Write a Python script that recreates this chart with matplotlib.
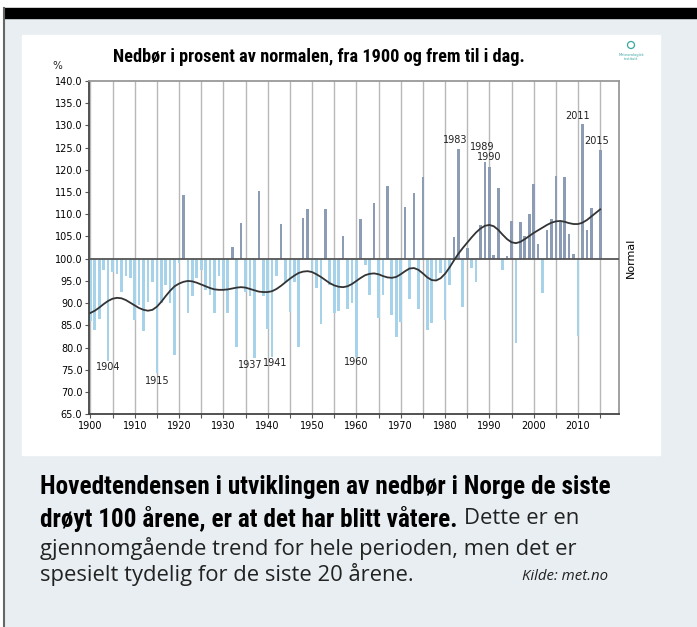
import matplotlib.pyplot as plt
from matplotlib.patches import Rectangle, Circle
import numpy as np

years = list(range(1900, 2016))
precip = [
    86.0, 84.0, 86.5, 97.5, 77.0, 97.0, 96.5, 92.5, 96.0, 95.7,   # 1900-09
    86.2, 89.5, 83.8, 90.3, 94.8, 74.3, 90.0, 94.1, 90.0, 78.3,   # 1910-19
    99.0, 114.3, 87.7, 91.5, 95.7, 97.5, 93.0, 91.9, 87.7, 96.0,  # 1920-29
    93.0, 87.7, 102.7, 80.2, 108.1, 92.6, 91.5, 77.6, 115.2, 91.5,  # 1930-39
    84.3, 78.0, 96.0, 107.8, 94.8, 88.1, 94.8, 80.2, 109.2, 111.1,  # 1940-49
    97.0, 93.3, 85.3, 111.1, 94.1, 87.9, 88.3, 105.1, 88.8, 90.0,  # 1950-59
    78.0, 108.9, 98.6, 91.8, 112.5, 86.6, 91.8, 116.4, 87.3, 82.5,  # 1960-69
    85.8, 111.7, 90.9, 114.8, 88.8, 118.3, 84.0, 85.5, 95.2, 96.7,  # 1970-79
    86.2, 94.1, 104.8, 124.6, 89.2, 102.3, 97.8, 94.8, 107.5, 121.8,  # 1980-89
    120.6, 100.8, 115.8, 97.5, 100.5, 108.5, 81.1, 108.2, 105.0, 110.0,  # 1990-99
    116.7, 103.2, 92.2, 106.5, 108.9, 118.6, 108.3, 118.4, 105.5, 101.1,  # 2000-09
    82.6, 130.4, 106.5, 111.3, 100.0, 124.4,  # 2010-15
]
trend = [
    87.8, 88.3, 89.0, 89.8, 90.5, 91.0, 91.2, 91.1, 90.7, 90.1,
    89.5, 88.9, 88.5, 88.3, 88.5, 89.2, 90.3, 91.6, 92.8, 93.8,
    94.4, 94.8, 95.0, 94.9, 94.6, 94.2, 93.8, 93.4, 93.1, 93.0,
    93.0, 93.1, 93.3, 93.5, 93.6, 93.5, 93.2, 92.9, 92.6, 92.5,
    92.5, 92.7, 93.2, 93.9, 94.7, 95.5, 96.2, 96.8, 97.1, 97.2,
    97.0, 96.5, 95.9, 95.2, 94.5, 94.0, 93.7, 93.6, 93.8, 94.3,
    95.0, 95.7, 96.3, 96.6, 96.7, 96.5, 96.1, 95.8, 95.7, 95.9,
    96.5, 97.2, 97.8, 97.9, 97.5, 96.7, 95.8, 95.2, 95.1, 95.6,
    96.6, 98.0, 99.6, 101.1, 102.4, 103.6, 104.8, 105.9, 106.8, 107.4,
    107.6, 107.3, 106.5, 105.4, 104.4, 103.7, 103.5, 103.8, 104.4, 105.1,
    105.8, 106.4, 107.0, 107.6, 108.1, 108.4, 108.5, 108.3, 108.0, 107.8,
    107.8, 108.1, 108.7, 109.5, 110.3, 111.1,
]
label_years = [1904, 1915, 1937, 1941, 1960, 1983, 1989, 1990, 2011, 2015]
# label offsets (x in years, y in percent) relative to the bar tip
label_offsets = {1904: (0, -1.4), 1915: (0.2, -1.7), 1937: (-1.0, -1.4),
                 1941: (0.6, -1.4), 1960: (-0.1, -1.3), 1983: (-0.6, 2.1),
                 1989: (-0.7, 3.3), 1990: (0.0, 2.2), 2011: (-1.1, 1.7),
                 2015: (-0.8, 2.1)}

W, H = 697, 627
bold_font = ['Roboto Condensed', 'Lato', 'DejaVu Sans']
body_font = ['Open Sans', 'DejaVu Sans']

fig = plt.figure(figsize=(W / 100, H / 100), dpi=100)
renderer = fig.canvas.get_renderer()


def fit_width(txt, target):
    w = txt.get_window_extent(renderer).width
    txt.set_fontsize(txt.get_fontsize() * target / w)
    return txt.get_fontsize()


# page background, drawn in pixel coordinates
bg = fig.add_axes([0, 0, 1, 1])
bg.set_xlim(0, W)
bg.set_ylim(H, 0)
bg.axis('off')
bg.add_patch(Rectangle((0, 0), W, H, color='white'))
bg.add_patch(Rectangle((4, 18), W, H, color='#e8eef1'))
bg.add_patch(Rectangle((4, 8), W, 10, color='black'))
bg.plot([4, 4], [8, H], color='#666666', lw=1.5)
bg.add_patch(Rectangle((22, 35), 638, 420, color='white'))

title = bg.text(113, 57, 'Nedbør i prosent av normalen, fra 1900 og frem til i dag.',
                fontsize=10.5, fontweight='bold', family=bold_font, va='center', ha='left')
fit_width(title, 412)
bg.text(57, 66, '%', fontsize=7.5, va='center', ha='center', color='#222222')
bg.text(631, 258, 'Normal', rotation=90, fontsize=8, va='center', ha='center')

# logo
bg.add_patch(Circle((631, 45), 3.5, fill=False, ec='#3aa6a0', lw=0.9))
bg.text(631, 53, 'Meteorologisk\ninstitutt', fontsize=2.6, color='#3aa6a0',
        ha='center', va='top', linespacing=1.0)

# chart
ax = fig.add_axes([88.6 / W, 1 - 414.3 / H, 530.2 / W, 333.4 / H])
ax.set_xlim(1899.6, 2019.2)
ax.set_ylim(65, 140)

colors = ['#8c9cb5' if v >= 100 else '#a6d2ea' for v in precip]
heights = [v - 100 for v in precip]
ax.bar(years, heights, bottom=100, width=0.6, color=colors, zorder=2)
ax.axhline(100, color='#555555', lw=1.3, zorder=3)
ax.plot(years, trend, color='#333333', lw=1.3, zorder=4)

for yr in label_years:
    v = precip[years.index(yr)]
    dx, dy = label_offsets[yr]
    ax.text(yr + dx, v + dy, str(yr), fontsize=7, ha='center', va='center',
            color='#222222', zorder=5)

xt = list(range(1900, 2016, 5))
ax.set_xticks(xt)
ax.set_xticklabels([str(t) if t % 10 == 0 else '' for t in xt])
yt = np.arange(65, 141, 5)
ax.set_yticks(yt)
ax.set_yticklabels([f'{t:.1f}' for t in yt])
ax.tick_params(labelsize=7, length=3, width=0.8, color='#555555', pad=1.5)
ax.grid(axis='x', color='#b8b8b8', lw=1.0, zorder=0)
for s in ['left', 'bottom']:
    ax.spines[s].set_color('#444444')
    ax.spines[s].set_linewidth(1.3)
for s in ['top', 'right']:
    ax.spines[s].set_color('#999999')
    ax.spines[s].set_linewidth(1.3)

# caption below the card
line1 = bg.text(40, 487, 'Hovedtendensen i utviklingen av nedbør i Norge de siste',
                fontsize=15, fontweight='bold', family=bold_font, va='center', ha='left')
bsize = fit_width(line1, 570)
line2 = bg.text(40, 519, 'drøyt 100 årene, er at det har blitt våtere.',
                fontsize=bsize, fontweight='bold', family=bold_font, va='center', ha='left')
line3 = bg.text(40, 548, 'gjennomgående trend for hele perioden, men det er',
                fontsize=14, family=body_font, va='center', ha='left', color='#222222')
rsize = fit_width(line3, 540)
bb = line2.get_window_extent(renderer)
bg.text(bb.x1 + 6, 519, 'Dette er en', fontsize=rsize,
        family=body_font, va='center', ha='left', color='#222222')
bg.text(40, 575, 'spesielt tydelig for de siste 20 årene.', fontsize=rsize,
        family=body_font, va='center', ha='left', color='#222222')
kilde = bg.text(522, 576, 'Kilde: met.no', fontsize=9, style='italic', family=body_font,
                va='center', ha='left', color='#222222')
fit_width(kilde, 86)

fig.savefig('out.png', dpi=100)
